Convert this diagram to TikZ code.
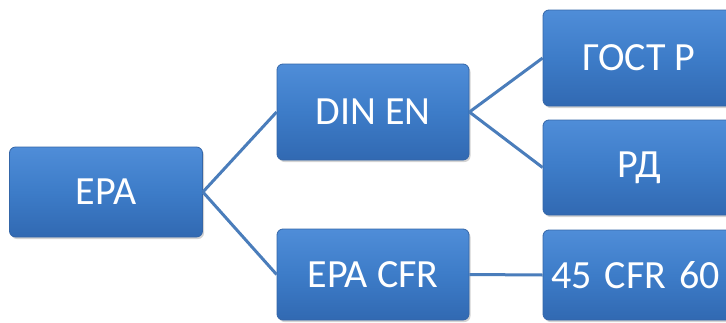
\documentclass[tikz,border=0pt]{standalone}
\usepackage{fontspec}
\setmainfont{Carlito}
\usetikzlibrary{shadows}
\tikzset{
  box/.style={rectangle, rounded corners=6pt, draw=boxedge, line width=0.8pt,
    top color=boxtop, bottom color=boxbot, middle color=boxmid,
    text=white, font=\fontsize{40}{46}\selectfont,
    inner sep=0pt, minimum width=192pt,
    drop shadow={opacity=0.35, shadow xshift=1.5pt, shadow yshift=-2pt}},
  link/.style={draw=linkcol, line width=3pt}
}
\definecolor{boxtop}{HTML}{4F8DD8}
\definecolor{boxmid}{HTML}{3D7CC8}
\definecolor{boxbot}{HTML}{3169B2}
\definecolor{boxedge}{HTML}{3466A8}
\definecolor{linkcol}{HTML}{4A7DBB}
\begin{document}
\begin{tikzpicture}[x=1pt,y=-1pt]
\useasboundingbox (0,0) rectangle (726,322);
\clip (0,0) rectangle (726,322);
\node[box, minimum height=90pt, minimum width=193pt] (epa) at (106,192) {EPA};
\node[box, minimum height=96pt] (din) at (373,112) {DIN EN};
\node[box, minimum height=96pt] (gost) at (639,58) {ГОСТ Р};
\node[box, minimum height=95pt] (rd) at (639,167.5) {РД};
\node[box, minimum height=91pt] (cfr) at (373,274.5) {EPA CFR};
\node[box, minimum height=90pt, text width=176pt, align=left] (cfr45) at (639,275) {\mbox{45 CFR 60}};
\draw[link] (epa.east) -- (din.west);
\draw[link] (epa.east) -- (cfr.west);
\draw[link] (din.east) -- (gost.west);
\draw[link] (din.east) -- (rd.west);
\draw[link] (cfr.east) -- (cfr45.west);
\end{tikzpicture}
\end{document}
